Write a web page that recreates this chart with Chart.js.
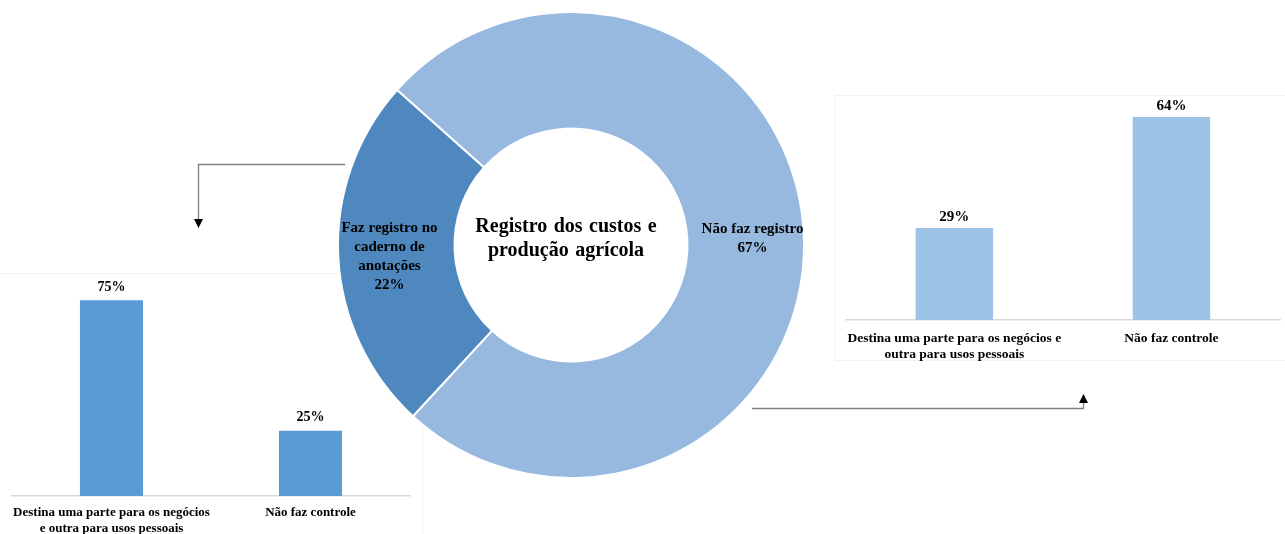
<!DOCTYPE html>
<html>
<head>
<meta charset="utf-8">
<script src="https://cdn.jsdelivr.net/npm/chart.js@4.4.1/dist/chart.umd.min.js"></script>
<style>
  html, body { margin: 0; padding: 0; background: #ffffff; }
  body { width: 1285px; height: 534px; position: relative; overflow: hidden; }
  .wrap { position: absolute; }
  canvas { display: block; }
</style>
</head>
<body>
<div class="wrap" id="wd" style="left:0;top:0;width:1285px;height:534px;"><canvas id="donut"></canvas></div>
<div class="wrap" id="wl" style="left:0;top:235px;width:425px;height:311px;"><canvas id="barL"></canvas></div>
<div class="wrap" id="wr" style="left:835px;top:0;width:450px;height:374px;"><canvas id="barR"></canvas></div>
<script>
// ---- Data ----
const donutTitle = ["Registro dos custos e", "produção agrícola"];
const donutLabels = [["Não faz registro", "67%"], ["Faz registro no", "caderno de", "anotações", "22%"]];
const donutValues = [67, 22];
const donutColors = ["#97B9E0", "#4F88BF"];

const leftCategories = [["Destina uma parte para os negócios", "e outra para usos pessoais"], "Não faz controle"];
const leftValues = [75, 25];

const rightCategories = [["Destina uma parte para os negócios e", "outra para usos pessoais"], "Não faz controle"];
const rightValues = [29, 64];

const SERIF = "'Liberation Serif', 'Times New Roman', serif";

// ---- Doughnut ----
const donutPlugin = {
  id: 'donutDecor',
  beforeDraw(chart) {
    const ctx = chart.ctx;
    ctx.save();
    ctx.strokeStyle = '#f3f3f3';
    ctx.lineWidth = 1;
    ctx.strokeRect(-1, 273.5, 423.5, 270);
    ctx.strokeRect(835.5, 95.5, 460, 265);
    ctx.restore();
  },
  afterDraw(chart) {
    const ctx = chart.ctx;
    const meta = chart.getDatasetMeta(0);
    const cx = (chart.chartArea.left + chart.chartArea.right) / 2;
    const cy = (chart.chartArea.top + chart.chartArea.bottom) / 2;
    ctx.save();
    ctx.fillStyle = '#000';
    ctx.textAlign = 'center';
    ctx.textBaseline = 'middle';
    ctx.font = 'bold 20px ' + SERIF;
    ctx.wordSpacing = '1.5px';
    donutTitle.forEach((t, i) => ctx.fillText(t, cx - 5, cy - 18 + i * 24));
    ctx.wordSpacing = '0px';
    ctx.font = 'bold 15px ' + SERIF;
    meta.data.forEach((arc, i) => {
      const p = arc.tooltipPosition();
      const dx = p.x - cx, dy = p.y - cy;
      const d = Math.hypot(dx, dy) || 1;
      const px = p.x + dx / d * 7, py = p.y + dy / d * 7 + 2.5;
      const lines = donutLabels[i];
      const lh = 19;
      const y0 = py - (lines.length - 1) * lh / 2;
      lines.forEach((l, j) => ctx.fillText(l, px, y0 + j * lh));
    });
    // connector arrows
    ctx.strokeStyle = '#808080';
    ctx.lineWidth = 1.3;
    ctx.beginPath();
    ctx.moveTo(345, 164.5); ctx.lineTo(198.5, 164.5); ctx.lineTo(198.5, 220);
    ctx.stroke();
    ctx.fillStyle = '#000';
    ctx.beginPath();
    ctx.moveTo(194, 219); ctx.lineTo(203, 219); ctx.lineTo(198.5, 228); ctx.closePath();
    ctx.fill();
    ctx.beginPath();
    ctx.moveTo(752, 408.5); ctx.lineTo(1083.5, 408.5); ctx.lineTo(1083.5, 402);
    ctx.stroke();
    ctx.beginPath();
    ctx.moveTo(1079, 403); ctx.lineTo(1088, 403); ctx.lineTo(1083.5, 394); ctx.closePath();
    ctx.fill();
    ctx.restore();
  }
};

new Chart(document.getElementById('donut'), {
  type: 'doughnut',
  data: {
    labels: donutLabels.map(l => l.slice(0, -1).join(' ')),
    datasets: [{
      data: donutValues,
      backgroundColor: donutColors,
      borderColor: '#ffffff',
      borderWidth: 2
    }]
  },
  options: {
    responsive: true,
    maintainAspectRatio: false,
    animation: false,
    rotation: -48.3,
    cutout: '50%',
    layout: { padding: { left: 337, right: 480, top: 11, bottom: 55 } },
    plugins: { legend: { display: false }, tooltip: { enabled: false } }
  },
  plugins: [donutPlugin]
});

// ---- Bar charts ----
function valueLabelPlugin(offset, size) {
  return {
    id: 'valLabels',
    afterDatasetsDraw(chart) {
      const ctx = chart.ctx;
      const meta = chart.getDatasetMeta(0);
      const ds = chart.data.datasets[0];
      ctx.save();
      ctx.fillStyle = '#000';
      ctx.font = 'bold ' + size + 'px ' + SERIF;
      ctx.textAlign = 'center';
      ctx.textBaseline = 'middle';
      meta.data.forEach((bar, i) => {
        ctx.fillText(ds.data[i] + '%', bar.x, bar.y - offset);
      });
      ctx.restore();
    }
  };
}

function barChart(id, cats, vals, color, barPct, pad, offset, tickSize, valSize, tickPad) {
  return new Chart(document.getElementById(id), {
    type: 'bar',
    data: {
      labels: cats,
      datasets: [{ data: vals, backgroundColor: color, borderWidth: 0 }]
    },
    options: {
      responsive: true,
      maintainAspectRatio: false,
      animation: false,
      layout: { padding: pad },
      plugins: { legend: { display: false }, tooltip: { enabled: false } },
      datasets: { bar: { categoryPercentage: 1, barPercentage: barPct } },
      scales: {
        x: {
          grid: { display: false, drawTicks: false },
          border: { display: true, color: '#d9d9d9', width: 1.5 },
          ticks: {
            color: '#000',
            padding: tickPad,
            maxRotation: 0,
            autoSkip: false,
            font: { family: SERIF, weight: 'bold', size: tickSize, lineHeight: 16 / tickSize }
          }
        },
        y: { display: false, min: 0, max: 100 }
      }
    },
    plugins: [valueLabelPlugin(offset, valSize)]
  });
}

barChart('barL', leftCategories, leftValues, '#5B9BD5', 0.317, { left: 12, right: 15, top: 0, bottom: 0 }, 13, 13, 14, 9);
barChart('barR', rightCategories, rightValues, '#9DC3E6', 0.357, { left: 6, right: 5, top: 3, bottom: 0 }, 11, 13.5, 15, 11);
</script>
</body>
</html>
